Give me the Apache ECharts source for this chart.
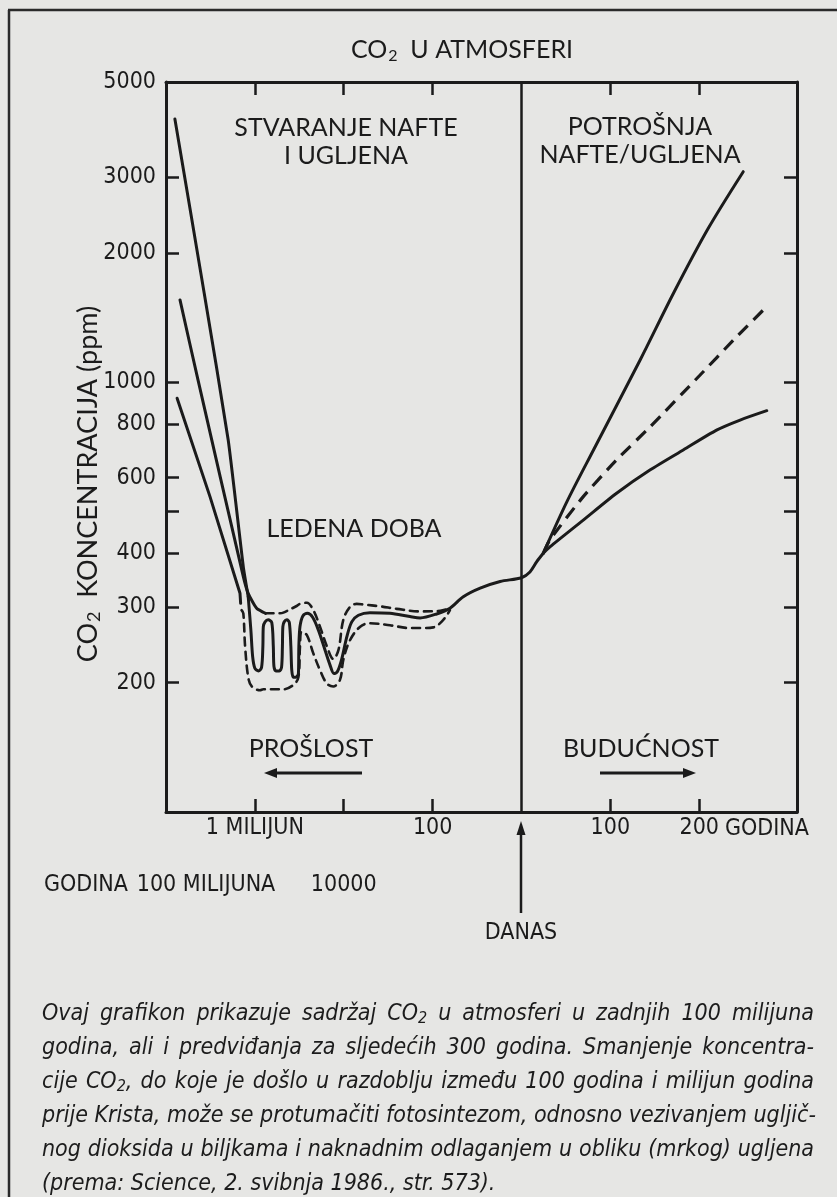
<!DOCTYPE html>
<html>
<head>
<meta charset="utf-8">
<title>CO2 u atmosferi</title>
<script src="https://cdn.jsdelivr.net/npm/echarts@6/dist/echarts.min.js"></script>
<style>
  html, body { margin: 0; padding: 0; background: #e6e6e4; }
  #wrap { position: relative; width: 837px; height: 1197px; overflow: hidden; }
  #chart { position: absolute; left: 0; top: 0; width: 837px; height: 1197px; }
  #caption {
    position: absolute; left: 42px; top: 995px; width: 772px;
    font-family: 'Liberation Sans Narrow', 'DejaVu Sans Condensed', sans-serif;
    font-style: italic; font-size: 23px; line-height: 34px; color: #1c1c1c;
  }
  #caption .j { text-align: justify; text-align-last: justify; white-space: nowrap; }
  #caption sub { font-size: 16px; vertical-align: -3px; line-height: 0; }
</style>
</head>
<body>
<div id="wrap">
  <div id="chart"></div>
  <div id="caption">
    <div class="j">Ovaj grafikon prikazuje sadržaj CO<sub>2</sub> u atmosferi u zadnjih 100 milijuna</div>
    <div class="j">godina, ali i predviđanja za sljedećih 300 godina. Smanjenje koncentra-</div>
    <div class="j">cije CO<sub>2</sub>, do koje je došlo u razdoblju između 100 godina i milijun godina</div>
    <div class="j">prije Krista, može se protumačiti fotosintezom, odnosno vezivanjem ugljič-</div>
    <div class="j">nog dioksida u biljkama i naknadnim odlaganjem u obliku (mrkog) ugljena</div>
    <div>(prema: Science, 2. svibnja 1986., str. 573).</div>
  </div>
</div>
<script>
// past points: [log10 of years before today (negative), ppm]
// future points: [years after today, ppm]
const descentPast = [[-7.80, 4100], [-7.14, 1612], [-6.60, 734], [-6.26, 372], [-6.15, 317]];
const trunkPast = [
  [-6.15, 317], [-6.09, 265], [-6.05, 230], [-6.00, 216], [-5.92, 213],
  [-5.85, 217], [-5.82, 243], [-5.81, 270], [-5.77, 277], [-5.70, 280],
  [-5.62, 276], [-5.585, 243], [-5.57, 218], [-5.525, 213], [-5.45, 213],
  [-5.40, 217], [-5.38, 243], [-5.37, 270], [-5.34, 277], [-5.28, 280],
  [-5.225, 276], [-5.19, 243], [-5.17, 214], [-5.135, 206], [-5.075, 206],
  [-5.02, 210], [-5.01, 243], [-4.985, 270], [-4.92, 286], [-4.82, 290],
  [-4.70, 284], [-4.57, 265], [-4.42, 238], [-4.31, 220], [-4.22, 210],
  [-4.145, 212], [-4.05, 226], [-3.93, 256], [-3.82, 277], [-3.67, 287],
  [-3.41, 291], [-2.96, 290], [-2.51, 285], [-2.28, 283], [-1.91, 289],
  [-1.61, 298], [-1.31, 317], [-0.93, 332], [-0.48, 344], [0, 351]
];
const trunkFuture = [[0, 351], [9.5, 362], [17, 382], [24.5, 400]];

const secondPast = [[-7.685, 1555], [-7.28, 1013], [-6.26, 353], [-6.15, 323], [-5.96, 298], [-5.76, 290]];
const thirdPast = [[-7.75, 918], [-7.01, 542], [-6.335, 323], [-6.32, 306]];

const upperBand = [
  [-5.76, 290], [-5.435, 290], [-5.36, 291], [-5.06, 301.6], [-4.985, 305],
  [-4.83, 307], [-4.685, 295], [-4.535, 270], [-4.38, 243], [-4.235, 227],
  [-4.12, 238], [-4.01, 280], [-3.86, 300], [-3.71, 305], [-3.56, 304],
  [-3.18, 301], [-2.81, 297], [-2.28, 293], [-1.83, 294], [-1.61, 298]
];
const lowerBand = [
  [-6.30, 295], [-6.26, 290], [-6.22, 243], [-6.15, 206], [-6.07, 196],
  [-5.885, 192], [-5.81, 193], [-5.36, 193], [-5.135, 197.5], [-5.02, 206],
  [-4.985, 243], [-4.95, 263], [-4.83, 258], [-4.685, 234], [-4.535, 214],
  [-4.38, 199], [-4.235, 196], [-4.085, 203], [-4.01, 226], [-3.86, 251],
  [-3.63, 270], [-3.41, 275], [-2.96, 272], [-2.51, 268], [-2.28, 268],
  [-1.985, 269], [-1.76, 280], [-1.61, 295]
];

const highFuture = [[24.5, 400], [51, 527], [81, 696], [133.5, 1127], [171, 1612], [210, 2280], [249.5, 3092]];
const midFuture = [[24.5, 400], [32, 430], [69.5, 542], [107, 660], [144.5, 787], [201, 1040], [238.5, 1254], [274, 1487]];
const lowFuture = [[24.5, 400], [32, 414], [69.5, 478], [107, 552], [144.5, 625], [182, 696], [219.5, 774], [246, 817], [276, 859]];

const yTickValues = [200, 300, 400, 500, 600, 800, 1000, 2000, 3000];
const yLabelValues = [200, 300, 400, 600, 800, 1000, 2000, 3000, 5000];
const xTickPos = [-6, -4, -2, 2, 4];
const xLabelPos = [-6, -4, -2, 2, 4];
const xLabelText = ['1 MILIJUN', '\n\n10000', '100', '100', '200'];

const INK = '#1b1b1b';
const NARROW = "'Liberation Sans Narrow', 'DejaVu Sans Condensed', sans-serif";
const SANS = "Lato, 'Open Sans', sans-serif";
const YEARS_PER_UNIT = 50;

const lg = (v) => Math.log10(v);
const past = (list) => list.map((p) => [p[0], lg(p[1])]);
const future = (list) => list.map((p) => [p[0] / YEARS_PER_UNIT, lg(p[1])]);

function lineSeries(name, data, dashed, smooth, extra) {
  return Object.assign({
    name: name,
    type: 'line',
    data: data,
    symbol: 'none',
    smooth: smooth,
    silent: true,
    animation: false,
    lineStyle: { color: INK, width: dashed ? 2.6 : 3, type: dashed ? dashed : 'solid', cap: 'round', join: 'round' }
  }, extra || {});
}

function txt(text, x, y, size, family, lineHeight) {
  return {
    type: 'text', x: x, y: y, silent: true,
    style: { text: text, fill: INK, font: 'normal ' + size + 'px ' + family, align: 'center', verticalAlign: 'middle', lineHeight: lineHeight || size }
  };
}

const chart = echarts.init(document.getElementById('chart'));

const xAxisBase = {
  type: 'value', min: -8, max: 6.2,
  axisLine: { show: true, onZero: false, lineStyle: { color: INK, width: 3 } },
  axisTick: { show: true, inside: true, length: 13, customValues: xTickPos, lineStyle: { color: INK, width: 2.5 } },
  splitLine: { show: false }
};
const yAxisBase = {
  type: 'value', min: lg(100), max: lg(5000),
  axisLine: { show: true, onZero: false, lineStyle: { color: INK, width: 3 } },
  axisTick: { show: true, inside: true, length: 13, customValues: yTickValues.map(lg), lineStyle: { color: INK, width: 2.5 } },
  splitLine: { show: false }
};

chart.setOption({
  backgroundColor: '#e6e6e4',
  animation: false,
  grid: { left: 166, top: 82, width: 631, height: 730, outerBoundsMode: 'none' },
  xAxis: [
    Object.assign({}, xAxisBase, {
      position: 'bottom',
      axisLabel: {
        customValues: xLabelPos, color: INK, fontFamily: NARROW, fontSize: 23,
        lineHeight: 28.5, margin: 2,
        formatter: (v) => xLabelText[xLabelPos.indexOf(Math.round(v))]
      }
    }),
    Object.assign({}, xAxisBase, { position: 'top', axisLabel: { show: false } })
  ],
  yAxis: [
    Object.assign({}, yAxisBase, {
      position: 'left',
      axisLabel: {
        customValues: yLabelValues.map(lg), color: INK, fontFamily: NARROW, fontSize: 23, margin: 10,
        formatter: (v) => String(Math.round(Math.pow(10, v)))
      }
    }),
    Object.assign({}, yAxisBase, { position: 'right', axisLabel: { show: false } })
  ],
  series: [
    lineSeries('descent', past(descentPast), null, 0.15, {
      markLine: {
        silent: true, symbol: 'none', label: { show: false },
        lineStyle: { color: INK, width: 2.5, type: 'solid' },
        data: [{ xAxis: 0 }]
      }
    }),
    lineSeries('trunk', past(trunkPast).concat(future(trunkFuture).slice(1)), null, 0.3),
    lineSeries('second', past(secondPast), null, 0.2),
    lineSeries('third', past(thirdPast), null, false),
    lineSeries('upper band', past(upperBand), [8, 6], 0.35),
    lineSeries('lower band', past(lowerBand), [8, 6], 0.35),
    lineSeries('future high', future(highFuture), null, 0.3),
    lineSeries('future mid', future(midFuture), [13, 8], 0.2, { lineStyle: { color: INK, width: 3.2, type: [13, 8] } }),
    lineSeries('future low', future(lowFuture), null, 0.25)
  ],
  graphic: [
    { type: 'line', silent: true, shape: { x1: 8, y1: 10, x2: 837, y2: 10 }, style: { stroke: '#2a2a2a', lineWidth: 2.5 } },
    { type: 'line', silent: true, shape: { x1: 9, y1: 10, x2: 9, y2: 1197 }, style: { stroke: '#2a2a2a', lineWidth: 2.5 } },
    {
      type: 'text', x: 462, y: 50, silent: true,
      style: {
        text: '{b|CO}{s|2}{b|  U ATMOSFERI}', fill: INK, align: 'center', verticalAlign: 'middle',
        rich: { b: { fontFamily: SANS, fontSize: 25, fill: INK }, s: { fontFamily: SANS, fontSize: 16, fill: INK, padding: [12, 0, 0, 1] } }
      }
    },
    {
      type: 'text', x: 88, y: 484, rotation: Math.PI / 2, silent: true,
      style: {
        text: '{b|CO}{s|2}{b|  KONCENTRACIJA (ppm)}', fill: INK, align: 'center', verticalAlign: 'middle',
        rich: { b: { fontFamily: SANS, fontSize: 27, fill: INK }, s: { fontFamily: SANS, fontSize: 18, fill: INK, padding: [13, 0, 0, 1] } }
      }
    },
    txt('STVARANJE NAFTE\nI UGLJENA', 346, 142, 25, SANS, 28),
    txt('POTROŠNJA\nNAFTE/UGLJENA', 640, 141, 25, SANS, 28),
    txt('LEDENA DOBA', 354, 529, 25, SANS),
    txt('PROŠLOST', 311, 749, 25, SANS),
    txt('BUDUĆNOST', 641, 749, 25, SANS),
    { type: 'line', silent: true, shape: { x1: 273, y1: 773, x2: 362, y2: 773 }, style: { stroke: INK, lineWidth: 3 } },
    { type: 'polygon', silent: true, shape: { points: [[264, 773], [277, 768], [277, 778]] }, style: { fill: INK } },
    { type: 'line', silent: true, shape: { x1: 600, y1: 773, x2: 687, y2: 773 }, style: { stroke: INK, lineWidth: 3 } },
    { type: 'polygon', silent: true, shape: { points: [[696, 773], [683, 768], [683, 778]] }, style: { fill: INK } },
    txt('GODINA', 767, 829, 23, NARROW),
    txt('GODINA', 86, 885, 23, NARROW),
    txt('100 MILIJUNA', 206, 885, 23, NARROW),
    { type: 'line', silent: true, shape: { x1: 521, y1: 913, x2: 521, y2: 832 }, style: { stroke: INK, lineWidth: 2.5 } },
    { type: 'polygon', silent: true, shape: { points: [[521, 821], [516.5, 835], [525.5, 835]] }, style: { fill: INK } },
    txt('DANAS', 521, 933, 23, NARROW)
  ]
});
</script>
</body>
</html>
